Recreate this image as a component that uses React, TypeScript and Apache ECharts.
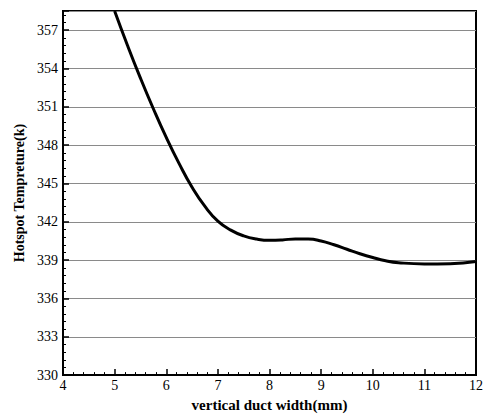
import React, { useEffect, useRef } from "react";
import * as echarts from "echarts";

const widths = [5, 5.25, 5.5, 5.75, 6, 6.25, 6.5, 6.75, 7, 7.25, 7.5, 7.75, 8, 8.25, 8.5, 8.75, 9, 9.25, 9.5, 9.75, 10, 10.25, 10.5, 11, 11.5, 12];
const temps = [358.5, 355.8, 353.25, 350.85, 348.6, 346.55, 344.7, 343.2, 342.05, 341.35, 340.9, 340.65, 340.55, 340.58, 340.66, 340.65, 340.5, 340.2, 339.85, 339.5, 339.2, 338.95, 338.8, 338.7, 338.72, 338.9];

const X_MIN = 4;
const X_MAX = 12;
const Y_MIN = 330;
const Y_MAX = 358.5;
const Y_STEP = 3;

export default function App() {
  const ref = useRef<HTMLDivElement>(null);
  useEffect(() => {
    if (!ref.current) return;
    const chart = echarts.init(ref.current, null, { renderer: "svg" });
    const font = "Liberation Serif";
    chart.setOption({
      animation: false,
      backgroundColor: "#fff",
      grid: {
        left: 63,
        right: 10,
        top: 11,
        bottom: 38,
        show: true,
        borderColor: "#000",
        borderWidth: 2,
        containLabel: false,
      },
      xAxis: {
        type: "value",
        min: X_MIN,
        max: X_MAX,
        interval: 1,
        name: "vertical duct width(mm)",
        nameLocation: "middle",
        nameGap: 21,
        nameTextStyle: { fontFamily: font, fontWeight: "bold", fontSize: 15, color: "#000" },
        axisLine: { show: true, lineStyle: { color: "#000", width: 2 } },
        axisTick: { show: true, inside: true, length: 6, lineStyle: { color: "#000", width: 1.5 } },
        minorTick: { show: true, splitNumber: 5, length: 3, lineStyle: { color: "#000", width: 1 } },
        axisLabel: { fontFamily: font, fontSize: 14, color: "#000", margin: 3 },
        splitLine: { show: false },
      },
      yAxis: {
        type: "value",
        min: Y_MIN,
        max: Y_MAX,
        interval: Y_STEP,
        name: "Hotspot Tempreture(k)",
        nameLocation: "middle",
        nameGap: 37,
        nameTextStyle: { fontFamily: font, fontWeight: "bold", fontSize: 14, color: "#000" },
        axisLine: { show: true, lineStyle: { color: "#000", width: 2 } },
        axisTick: { show: true, inside: true, length: 6, lineStyle: { color: "#000", width: 1.5 } },
        minorTick: { show: true, splitNumber: 5, length: 3, lineStyle: { color: "#000", width: 1 } },
        axisLabel: { fontFamily: font, fontSize: 14, color: "#000", margin: 5, showMaxLabel: false },
        splitLine: { show: true, lineStyle: { color: "#8a8a8a", width: 1 } },
      },
      series: [
        {
          type: "line",
          data: widths.map((w, i) => [w, temps[i]]),
          smooth: 0.5,
          showSymbol: false,
          lineStyle: { color: "#000", width: 3 },
          clip: true,
        },
      ],
    });
    return () => chart.dispose();
  }, []);
  return <div ref={ref} style={{ position: "absolute", left: 0, top: 0, width: 486, height: 417 }} />;
}
